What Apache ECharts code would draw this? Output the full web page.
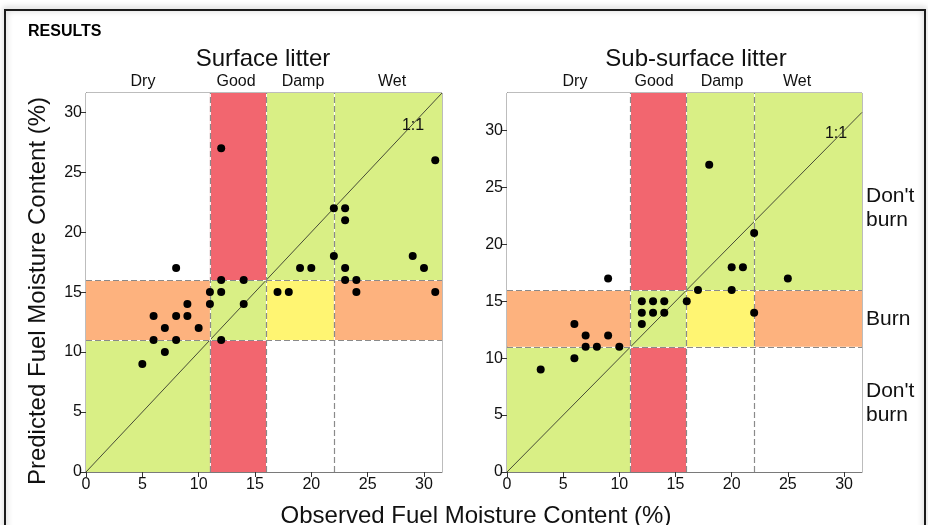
<!DOCTYPE html>
<html><head><meta charset="utf-8">
<script src="https://cdn.jsdelivr.net/npm/echarts@6/dist/echarts.min.js"></script>
<style>html,body{margin:0;padding:0;background:#fff}#c{width:928px;height:525px}</style>
</head><body><div id="c"></div>
<script>
// ---- data ----
const surfaceObs  = [12,31,22,23,23,22,29,8,19,20,23,30,12,14,23,24,11,12,17,18,24,31,9,11,14,6,8,9,7,10,6,8,12,7,5];
const surfacePred = [27,26,22,22,21,18,18,17,17,17,17,17,16,16,16,16,15,15,15,15,15,15,14,14,14,13,13,13,12,12,11,11,11,10,9];
const subObs  = [18,22,20,21,25,9,17,20,12,13,14,16,12,13,14,22,12,6,7,9,7,8,10,6,3];
const subPred = [27,21,18,18,17,17,16,16,15,15,15,15,14,14,14,14,13,13,12,12,11,11,11,10,9];
const tickValues = [0,5,10,15,20,25,30];
const xBreaks = [11,16,22];
const yBreaks = [11,16];
const zoneNames = ['Dry','Good','Damp','Wet'];
const burnLabels = ["Don't\nburn","Burn","Don't\nburn"];
const panelTitles = ['Surface litter','Sub-surface litter'];
const oneToOne = [[0,0],[31.6,31.6]];

// ---- style ----
const FONT = "'Liberation Sans', Arial, sans-serif";
const GREEN='#d9ef85', RED='#f2666f', ORANGE='#fdb27e', YELLOW='#fff572', WHITE='#ffffff';
// rows: y bands bottom->top, cols: x bands left->right
const zoneColors = [
  [GREEN, RED, WHITE, WHITE],
  [ORANGE, GREEN, YELLOW, ORANGE],
  [WHITE, RED, GREEN, GREEN]
];

const chart = echarts.init(document.getElementById('c'), null, {renderer:'canvas'});

function zonesFor(xmax, ymax){
  const xs=[0,...xBreaks,xmax], ys=[0,...yBreaks,ymax];
  const out=[];
  for(let r=0;r<3;r++) for(let c=0;c<4;c++){
    out.push([{xAxis:xs[c],yAxis:ys[r],itemStyle:{color:zoneColors[r][c]}},{xAxis:xs[c+1],yAxis:ys[r+1]}]);
  }
  return out;
}
function breakLines(){
  return [...xBreaks.map(v=>({xAxis:v})), ...yBreaks.map(v=>({yAxis:v}))];
}
const grids=[{left:86,top:93,width:356,height:379},{left:507,top:93,width:355,height:379}];
const xMax=[31.6,31.6], yMax=[31.6,33.3];

function xAxisFor(i){
  return {gridIndex:i,type:'value',min:0,max:xMax[i],interval:5,
    splitLine:{show:false},
    axisLine:{show:true,onZero:false,lineStyle:{color:'#7a7a7a',width:1}},
    axisTick:{show:true,length:5,lineStyle:{color:'#333'},customValues:tickValues},
    axisLabel:{customValues:tickValues,fontSize:16,color:'#111',fontFamily:FONT,margin:5}};
}
function yAxisFor(i){
  return {gridIndex:i,type:'value',min:0,max:yMax[i],interval:5,
    splitLine:{show:false},
    axisLine:{show:true,onZero:false,lineStyle:{color:'#7a7a7a',width:1}},
    axisTick:{show:true,length:5,lineStyle:{color:'#333'},customValues:tickValues},
    axisLabel:{customValues:tickValues,fontSize:16,color:'#111',fontFamily:FONT,margin:4}};
}
function seriesFor(i, obs, pred){
  return [
    {type:'line',xAxisIndex:i,yAxisIndex:i,data:[],silent:true,z:1,
      markArea:{silent:true,data:zonesFor(xMax[i],yMax[i])},
      markLine:{silent:true,symbol:['none','none'],label:{show:false},
        lineStyle:{color:'#ffffff',type:'solid',width:1,opacity:0.9},data:breakLines()}},
    {type:'line',xAxisIndex:i,yAxisIndex:i,data:oneToOne,silent:true,z:3,symbol:'none',
      lineStyle:{color:'#222',width:0.8},
      markLine:{silent:true,symbol:['none','none'],label:{show:false},
        lineStyle:{color:'#8a8a8a',type:[6,3],width:1.2},data:breakLines()}},
    {type:'scatter',xAxisIndex:i,yAxisIndex:i,z:5,symbolSize:8,
      itemStyle:{color:'#000',opacity:1},data:obs.map((v,k)=>[v,pred[k]])}
  ];
}

const txt=(x,y,text,size,extra)=>Object.assign({type:'text',x:x,y:y,z:100,silent:true,
  style:Object.assign({text:text,fontSize:size,fontFamily:FONT,fill:'#111',align:'center',verticalAlign:'middle'},extra||{})});

const leftZoneX=[143,236,303,392], rightZoneX=[575,654,722,797];
const graphic=[
  {type:'rect',silent:true,z:100,shape:{x:5,y:10,width:920,height:530},
    style:{fill:'none',stroke:'#1a1a1a',lineWidth:2,shadowBlur:6,shadowColor:'rgba(0,0,0,0.35)',shadowOffsetY:-1}},
  txt(28,32,'RESULTS',16,{align:'left',fontWeight:'bold',fill:'#000'}),
  txt(263,59,panelTitles[0],24),
  txt(696,59,panelTitles[1],24),
  ...zoneNames.map((n,k)=>txt(leftZoneX[k],82,n,16)),
  ...zoneNames.map((n,k)=>txt(rightZoneX[k],82,n,16)),
  txt(413,126,'1:1',16),
  txt(836,134,'1:1',16),
  txt(866,208,burnLabels[0],21,{align:'left',lineHeight:23.5}),
  txt(866,319,burnLabels[1],21,{align:'left'}),
  txt(866,403,burnLabels[2],21,{align:'left',lineHeight:23.5}),
  Object.assign(txt(38,291,'Predicted Fuel Moisture Content (%)',24),{rotation:Math.PI/2}),
  txt(476,516,'Observed Fuel Moisture Content (%)',24)
];

chart.setOption({
  animation:false,
  backgroundColor:'#fff',
  grid:grids.map(g=>Object.assign({show:true,borderColor:'#7a7a7a',borderWidth:1,backgroundColor:'transparent',containLabel:false},g)),
  xAxis:[xAxisFor(0),xAxisFor(1)],
  yAxis:[yAxisFor(0),yAxisFor(1)],
  series:[...seriesFor(0,surfaceObs,surfacePred),...seriesFor(1,subObs,subPred)],
  graphic:graphic
});
</script></body></html>
